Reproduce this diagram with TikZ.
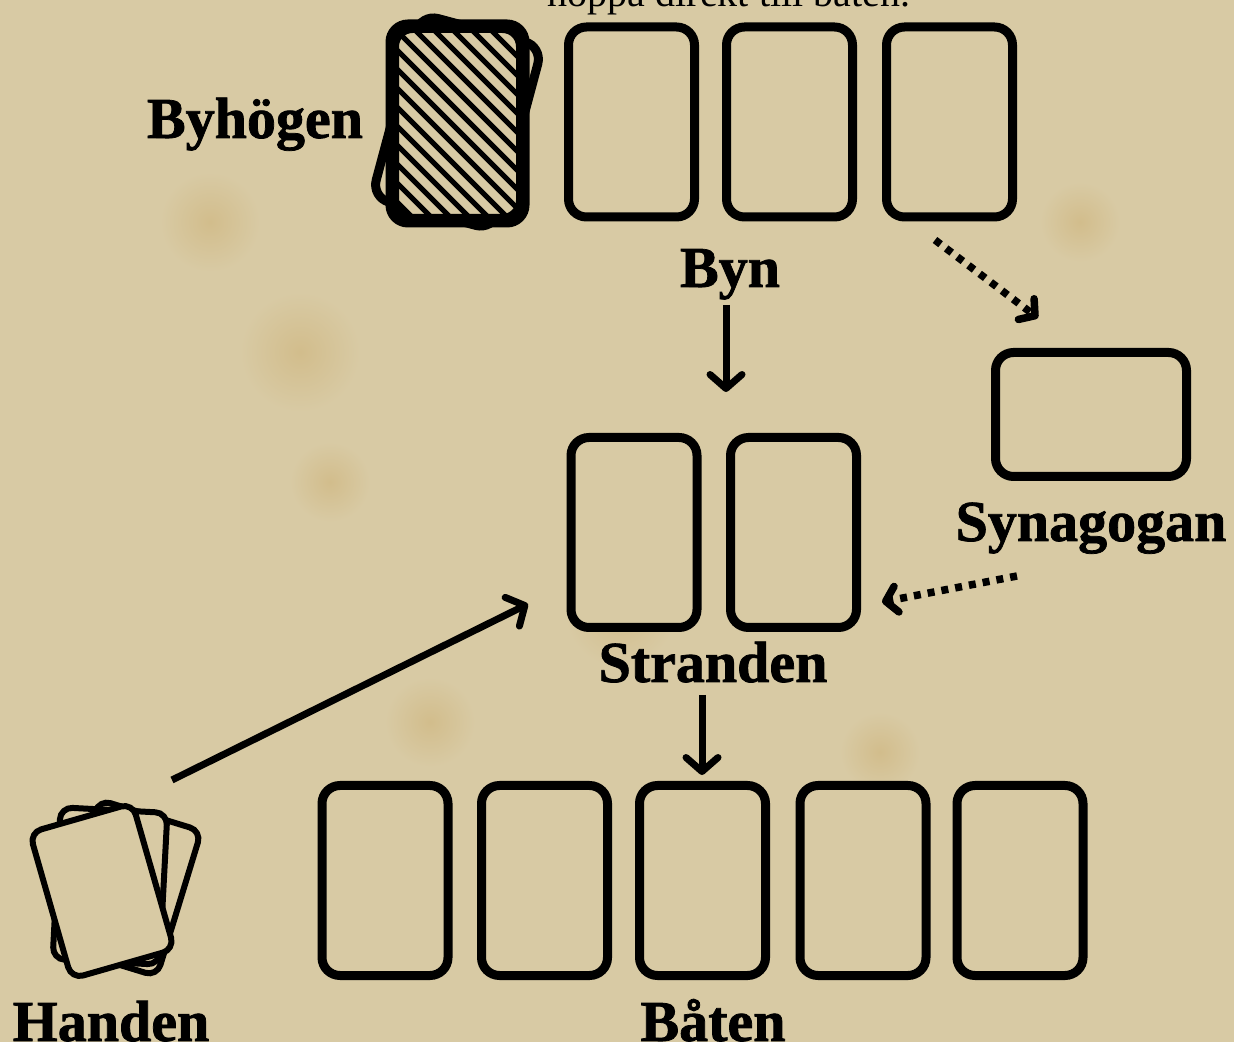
\documentclass[tikz,border=0pt]{standalone}
\usepackage{fontspec}
\setmainfont{Liberation Serif}
\newfontfamily\lblfont[BoldFeatures={FakeBold=1.3}]{Liberation Serif}
\usetikzlibrary{arrows.meta}
\definecolor{paper}{RGB}{216,202,164}
\definecolor{stain}{RGB}{205,178,120}
\begin{document}
\begin{tikzpicture}[x=1pt,y=1pt,
  card/.style={draw=black, line width=9pt, rounded corners=18pt, fill=paper,
    minimum width=126pt, minimum height=190pt, inner sep=0pt},
  landcard/.style={card, minimum width=191pt, minimum height=124pt},
  handcard/.style={draw=black, line width=6pt, rounded corners=12pt, fill=paper,
    minimum width=107pt, minimum height=152pt, inner sep=0pt},
  lbl/.style={font=\lblfont\fontsize{58}{62}\selectfont\bfseries, inner sep=0pt, anchor=base},
  note/.style={font=\fontsize{40}{44}\selectfont, inner sep=0pt, anchor=base},
  arr/.style={line width=7pt, -{Straight Barb[length=14pt,width=32pt,round]}},
  dotarr/.style={line width=7.5pt, dash pattern=on 7pt off 7pt,
    -{Straight Barb[length=11pt,width=26pt,round]}},
]
% background
\fill[paper] (0,0) rectangle (1234,1042);
\useasboundingbox (0,0) rectangle (1234,1042);
\foreach \cx/\cy/\r in {300/690/60, 620/430/55, 430/320/45, 210/820/50, 880/290/40, 560/150/45, 1080/820/40, 330/560/40, 470/880/40}
  \shade[inner color=stain!55!paper, outer color=paper] (\cx,\cy) circle (\r);

% top note (cut off)
\node[note] (note) at (729,1035) {hoppa direkt till båten.};

% village deck
\node[card, rotate=-15] (deckback) at (457,920) {};
\node[card] (deck) at (457.5,918.5) {};
\begin{scope}
  \clip[rounded corners=18pt] (deck.south west) rectangle (deck.north east);
  \foreach \k in {-11,...,7}
    \draw[line width=5pt] (deck.north west) ++(\k*19,0) -- ++(230,-230);
\end{scope}
\draw[line width=9pt, rounded corners=18pt] (deck.south west) rectangle (deck.north east);
\node[lbl] (byhogen) at (255,904) {Byhögen};

% village
\node[card] (v1) at (631.5,920) {};
\node[card] (v2) at (789.5,920) {};
\node[card] (v3) at (949.5,920) {};
\node[lbl] (byn) at (730,755) {Byn};

% synagogue
\node[landcard] (syn) at (1091,627.5) {};
\node[lbl] (synlbl) at (1091,501) {Synagogan};

% beach
\node[card] (s1) at (634,509.5) {};
\node[card] (s2) at (793.5,509.5) {};
\node[lbl] (strand) at (713,360) {Stranden};

% boat
\node[card] (b1) at (385,161.5) {};
\node[card] (b2) at (544.5,161.5) {};
\node[card] (b3) at (702.5,161.5) {};
\node[card] (b4) at (863,161.5) {};
\node[card] (b5) at (1020,161.5) {};
\node[lbl] (baten) at (713,1) {Båten};

% hand
\node[handcard, rotate=-17] (h1) at (128,154) {};
\node[handcard, rotate=-3] (h2) at (110,156) {};
\node[handcard, rotate=16] (h3) at (102,151) {};
\node[lbl] (handen) at (111,1) {Handen};

% connectors
\coordinate (a1s) at (726,737);
\coordinate (a1e) at (726,650);
\draw[arr] (a1s) -- (a1e);
\coordinate (a2s) at (702,347);
\coordinate (a2e) at (702,267);
\draw[arr] (a2s) -- (a2e);
\coordinate (a3s) at (172,262);
\coordinate (a3e) at (528,438);
\draw[arr] (a3s) -- (a3e);
\coordinate (d1s) at (935,802);
\coordinate (d1e) at (1038,724);
\draw[dotarr] (d1s) -- (d1e);
\coordinate (d2s) at (1017,466);
\coordinate (d2e) at (882,440);
\draw[dotarr] (d2s) -- (d2e);
\end{tikzpicture}
\end{document}
